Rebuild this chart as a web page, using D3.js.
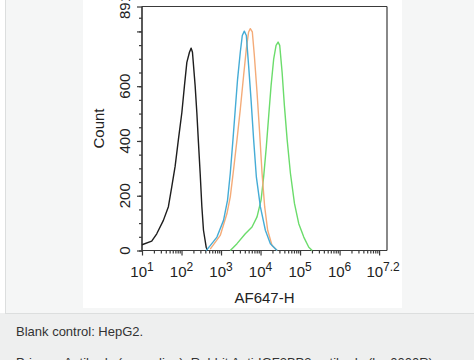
<!DOCTYPE html>
<html><head><meta charset="utf-8">
<script src="https://cdn.jsdelivr.net/npm/d3@7"></script>
<style>html,body{margin:0;padding:0;background:#fff;}svg{display:block;}</style>
</head><body>
<svg id="c" width="474" height="360"></svg>
<script>
// log10 of AF647-H intensity, and event counts
const blackLog = [1.0, 1.246, 1.373, 1.541, 1.668, 1.754, 1.838, 1.921, 2.008, 2.074, 2.135, 2.201, 2.244, 2.277, 2.345, 2.388, 2.429, 2.472, 2.515, 2.556, 2.624, 2.657];
const blackCount = [21, 34, 61, 110, 160, 233, 307, 405, 503, 601, 687, 724, 739, 724, 601, 503, 393, 282, 160, 74, 12, 0];
const blueLog = [2.624, 2.726, 2.896, 3.063, 3.165, 3.234, 3.302, 3.360, 3.419, 3.487, 3.538, 3.589, 3.640, 3.698, 3.759, 3.825, 3.893, 3.995, 4.122, 4.249, 4.419];
const blueCount = [0, 18, 49, 110, 184, 282, 405, 515, 626, 724, 785, 801, 785, 675, 552, 405, 270, 160, 74, 25, 0];
const orangeLog = [2.726, 2.980, 3.150, 3.234, 3.317, 3.404, 3.487, 3.571, 3.640, 3.698, 3.741, 3.792, 3.843, 3.911, 3.977, 4.038, 4.104, 4.180, 4.292, 4.419];
const orangeCount = [5, 55, 135, 196, 295, 405, 515, 638, 736, 798, 810, 798, 712, 577, 430, 282, 160, 74, 18, 0];
const greenLog = [3.234, 3.404, 3.614, 3.784, 3.911, 4.013, 4.079, 4.147, 4.206, 4.266, 4.333, 4.393, 4.444, 4.485, 4.546, 4.604, 4.673, 4.756, 4.858, 4.967, 5.094, 5.221, 5.307];
const greenCount = [0, 25, 61, 86, 123, 184, 270, 380, 491, 601, 700, 749, 761, 749, 650, 528, 405, 282, 172, 98, 49, 12, 0];

const xExp = [1, 2, 3, 4, 5, 6, 7];
const xExpLabels = ["1", "2", "3", "4", "5", "6", "7.2"];
const yMajor = [0, 200, 400, 600, 800, 891];
const yLabels = ["0", "200", "400", "600", "", "891"];
const yMax = 891;
const xMaxExp = 7.2;
const xTitle = "AF647-H";
const yTitle = "Count";
const caption1 = "Blank control: HepG2.";
const caption2 = "Primary Antibody (green line): Rabbit Anti-IGF2BP3 antibody (bs-0000R)";

(function () {
const svg = d3.select("#c");
const W = 474, H = 360;
// page chrome
svg.append("rect").attr("x", 0).attr("y", 0).attr("width", W).attr("height", H).attr("fill", "#fff");
svg.append("rect").attr("x", 5.5).attr("y", 0).attr("width", W - 5.5).attr("height", 313).attr("fill", "#f5f6f6");
svg.append("line").attr("x1", 5.5).attr("x2", 5.5).attr("y1", 0).attr("y2", 313).attr("stroke", "#dcdede");
svg.append("rect").attr("x", 0).attr("y", 313).attr("width", W).attr("height", H - 313).attr("fill", "#eeefef");
svg.append("line").attr("x1", 5).attr("x2", W).attr("y1", 313.5).attr("y2", 313.5).attr("stroke", "#dcdede");
svg.append("rect").attr("x", 83).attr("y", 0).attr("width", 319).attr("height", 308).attr("fill", "#fff");

const pL = 142, pR = 387, pT = 6.5, pB = 250.5;
const x = d3.scaleLog().domain([10, Math.pow(10, xMaxExp)]).range([pL, pR]);
const y = d3.scaleLinear().domain([0, yMax]).range([pB, pT]);

const axisCol = "#3a3a3a";
const g = svg.append("g");

// frame top/right
g.append("line").attr("x1", pL).attr("x2", pR).attr("y1", pT).attr("y2", pT).attr("stroke", axisCol).attr("stroke-width", 1.2);
g.append("line").attr("x1", pR).attr("x2", pR).attr("y1", pT).attr("y2", pB).attr("stroke", axisCol).attr("stroke-width", 1.2);

// x axis
const xMinor = [];
for (let e = 1; e < 7.2; e++) for (let m = 2; m <= 9; m++) { const v = m * Math.pow(10, e); if (v <= Math.pow(10, xMaxExp)) xMinor.push(v); }
const xAxisMinor = d3.axisBottom(x).tickValues(xMinor).tickSize(3).tickFormat("");
const xAxisMajor = d3.axisBottom(x).tickValues(xExp.map(e => Math.pow(10, e))).tickSize(5).tickFormat("");
const gxm = g.append("g").attr("transform", `translate(0,${pB})`).call(xAxisMinor);
const gx = g.append("g").attr("transform", `translate(0,${pB})`).call(xAxisMajor);
[gxm, gx].forEach(a => { a.selectAll("path,line").attr("stroke", axisCol).attr("stroke-width", 1.2); a.select(".domain").attr("d", `M${pL},0H${pR}`); });

const xl = g.append("g").attr("font-family", "Liberation Sans, Arial, sans-serif").attr("fill", "#222");
xExp.forEach((e, i) => {
  const t = xl.append("text").attr("x", x(Math.pow(10, e)) + (i === xExp.length - 1 ? 4 : 0)).attr("y", 277).attr("text-anchor", "middle").attr("font-size", 15);
  t.append("tspan").text("10");
  t.append("tspan").attr("font-size", 12).attr("dy", -6).text(xExpLabels[i]);
});
xl.append("text").attr("x", (pL + pR) / 2).attr("y", 303).attr("text-anchor", "middle").attr("font-size", 15).text(xTitle);

// y axis
const yMinor = d3.range(0, yMax, 50);
const yAxisMinor = d3.axisLeft(y).tickValues(yMinor).tickSize(3).tickFormat("");
const yAxisMajor = d3.axisLeft(y).tickValues(yMajor).tickSize(5).tickFormat("");
const gym = g.append("g").attr("transform", `translate(${pL},0)`).call(yAxisMinor);
const gy = g.append("g").attr("transform", `translate(${pL},0)`).call(yAxisMajor);
[gym, gy].forEach(a => { a.selectAll("path,line").attr("stroke", axisCol).attr("stroke-width", 1.2); a.select(".domain").attr("d", `M0,${pT}V${pB}`); });

yMajor.forEach((v, i) => {
  if (!yLabels[i]) return;
  xl.append("text").attr("transform", `translate(130,${y(v)}) rotate(-90)`).attr("text-anchor", "middle").attr("font-size", 15).text(yLabels[i]);
});
xl.append("text").attr("transform", `translate(104,${(pT + pB) / 2}) rotate(-90)`).attr("text-anchor", "middle").attr("font-size", 15).text(yTitle);

// curves
const line = d3.line().x(d => x(Math.pow(10, d[0]))).y(d => y(d[1]));
const series = [
  { lx: blackLog, c: blackCount, col: "#1e1e1e" },
  { lx: greenLog, c: greenCount, col: "#6bdc6b" },
  { lx: orangeLog, c: orangeCount, col: "#f4ab78" },
  { lx: blueLog, c: blueCount, col: "#45acd6" }
];
series.forEach(s => {
  g.append("path").datum(s.lx.map((v, i) => [v, s.c[i]])).attr("d", line)
    .attr("fill", "none").attr("stroke", s.col).attr("stroke-width", 1.4).attr("stroke-linejoin", "round");
});

// caption
const cap = svg.append("g").attr("font-family", "Liberation Sans, Arial, sans-serif").attr("fill", "#333").attr("font-size", 13);
cap.append("text").attr("x", 16).attr("y", 336).text(caption1);
cap.append("text").attr("x", 16).attr("y", 367).text(caption2);
})();
</script>
</body></html>
